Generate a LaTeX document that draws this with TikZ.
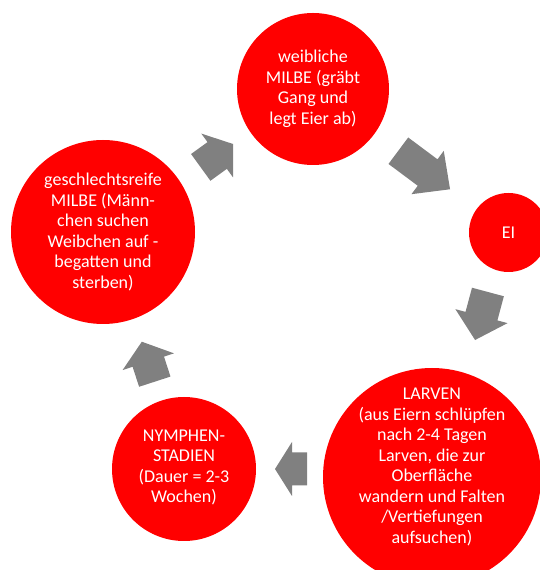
\documentclass[tikz,border=0pt]{standalone}
\usepackage{fontspec}
\setmainfont{Carlito}
\usepackage{tikz}

\definecolor{milbered}{RGB}{255,0,0}
\definecolor{pfeilgrau}{RGB}{128,128,128}

% block arrow: centre, angle, length, head length
\newcommand{\zykluspfeil}[4]{%
  \fill[pfeilgrau, shift={(#1)}, rotate=#2]
    (-#3/2, -16.5) -- (#3/2-#4, -16.5) -- (#3/2-#4, -27) -- (#3/2, 0)
    -- (#3/2-#4, 27) -- (#3/2-#4, 16.5) -- (-#3/2, 16.5) -- cycle;
}

\begin{document}
\begin{tikzpicture}[
		x=1pt, y=1pt,
		every node/.style={circle, fill=milbered, inner sep=0pt},
		stadium/.style={fill=none, text=white, align=center, font=\fontsize{18}{20.5}\selectfont}
	]
  \useasboundingbox (0,0) rectangle (540,570);
  \clip (0,0) rectangle (540,570);
  \node (weibchen) [minimum size=152pt] at (313,481) {};
  \node (ei) [minimum size=79pt] at (508.5,337.5) {};
  \node (larven) [minimum size=218pt] at (432,93) {};
  \node (nymphen) [minimum size=144pt] at (184,101) {};
  \node (milbe) [minimum size=184pt] at (103,338) {};
  \node (weibchen_text) [stadium] at (weibchen) {weibliche\\MILBE (gräbt\\Gang und\\legt Eier ab)};
  \node (ei_text) [stadium] at (ei) {EI};
  \node (larven_text) [stadium] at (432,103) {LARVEN\\(aus Eiern schlüpfen\\nach 2-4 Tagen\\Larven, die zur\\Oberfläche\\wandern und Falten\\/Vertiefungen\\aufsuchen)};
  \node (nymphen_text) [stadium] at (184,102.5) {NYMPHEN-\\STADIEN\\(Dauer = 2-3\\Wochen)};
  \node (milbe_text) [stadium] at (milbe) {geschlechtsreife\\MILBE (Männ-\\chen suchen\\Weibchen auf -\\begatten und\\sterben)};
  % arrows of the cycle
  \zykluspfeil{216.9,414.3}{35.9}{39.9}{19.6}
  \zykluspfeil{424.2,400}{-36.7}{64.5}{28}
  \zykluspfeil{481.5,254}{-105}{49.7}{24.7}
  \zykluspfeil{291,101}{180}{32}{17}
  \zykluspfeil{148.3,208.3}{108}{42}{21}
\end{tikzpicture}
\end{document}
